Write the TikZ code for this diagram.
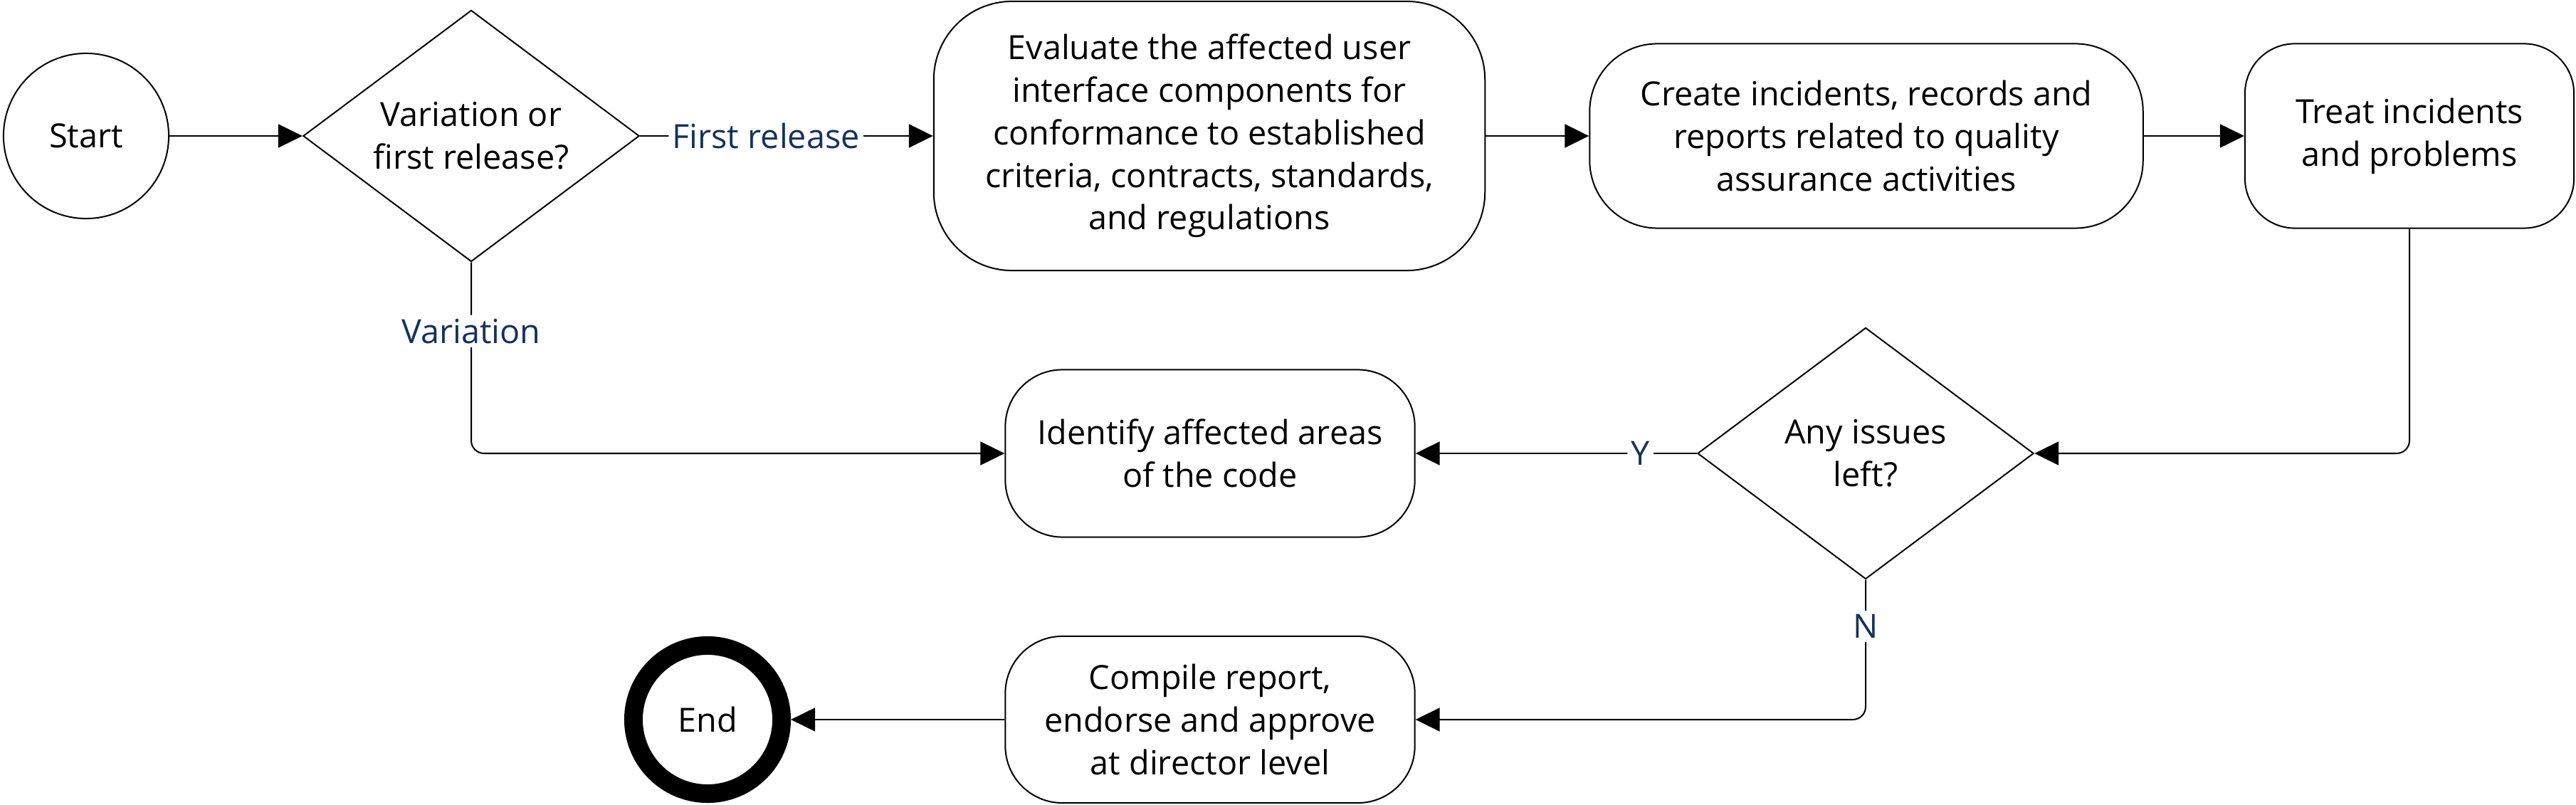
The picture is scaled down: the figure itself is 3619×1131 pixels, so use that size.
\documentclass[tikz,border=0pt]{standalone}
\usepackage{fontspec}
\setmainfont{Open Sans}
\usetikzlibrary{arrows.meta,shapes.geometric}
\definecolor{lbl}{HTML}{16325C}
\begin{document}
\begin{tikzpicture}[x=0.01cm,y=-0.01cm,
  every node/.style={font=\fontsize{13.3}{17}\selectfont},
  procbox/.style={draw, line width=0.02cm, rounded corners=#1, align=center, inner sep=0pt},
  decide/.style={draw, diamond, line width=0.02cm, aspect=1.336, inner sep=0pt, align=center,
    minimum width=4.72cm, minimum height=3.53cm},
  conn/.style={line width=0.02cm, -{Triangle[length=0.34cm,width=0.33cm]}, rounded corners=0.18cm},
  lab/.style={fill=white, text=lbl, inner sep=1.5pt}
]
\useasboundingbox (0,0) rectangle (3619,1131);

\node[draw, circle, line width=0.02cm, minimum size=2.32cm, inner sep=0pt] (start) at (121,191) {Start};
\node[decide] (d1) at (662,191) {Variation or\\first release?};
\node[procbox=1.1cm, minimum width=7.74cm, minimum height=3.78cm] (eval) at (1699,191)
  {Evaluate the affected user\\interface components for\\conformance to established\\criteria, contracts, standards,\\and regulations};
\node[procbox=0.95cm, minimum width=7.77cm, minimum height=2.59cm] (create) at (2622,191)
  {Create incidents, records and\\reports related to quality\\assurance activities};
\node[procbox=0.7cm, minimum width=4.62cm, minimum height=2.59cm] (treat) at (3385,191)
  {Treat incidents\\and problems};
\node[decide] (d2) at (2621,637) {Any issues\\left?};
\node[procbox=0.8cm, minimum width=5.75cm, minimum height=2.35cm] (ident) at (1700,637)
  {Identify affected areas\\of the code};
\node[procbox=0.8cm, minimum width=5.75cm, minimum height=2.34cm] (comp) at (1700,1011)
  {Compile report,\\endorse and approve\\at director level};
\node[draw, circle, line width=0.26cm, minimum size=2.08cm, inner sep=0pt] (end) at (994,1011) {End};

\draw[conn] (start) -- (d1);
\draw[conn] (d1.east) -- node[lab, pos=0.43] (lfr) {First release} (eval.west);
\draw[conn] (eval) -- (create);
\draw[conn] (create) -- (treat);
\draw[conn] (treat.south) |- (d2.east);
\draw[conn] (d2.west) -- node[lab, pos=0.2] (ly) {Y} (ident.east);
\draw[conn] (d1.south) |- node[lab, pos=0.18] (lv) {Variation} (ident.west);
\draw[conn] (d2.south) |- node[lab, pos=0.167] (ln) {N} (comp.east);
\draw[conn] (comp.west) -- (end.east);
\end{tikzpicture}
\end{document}
